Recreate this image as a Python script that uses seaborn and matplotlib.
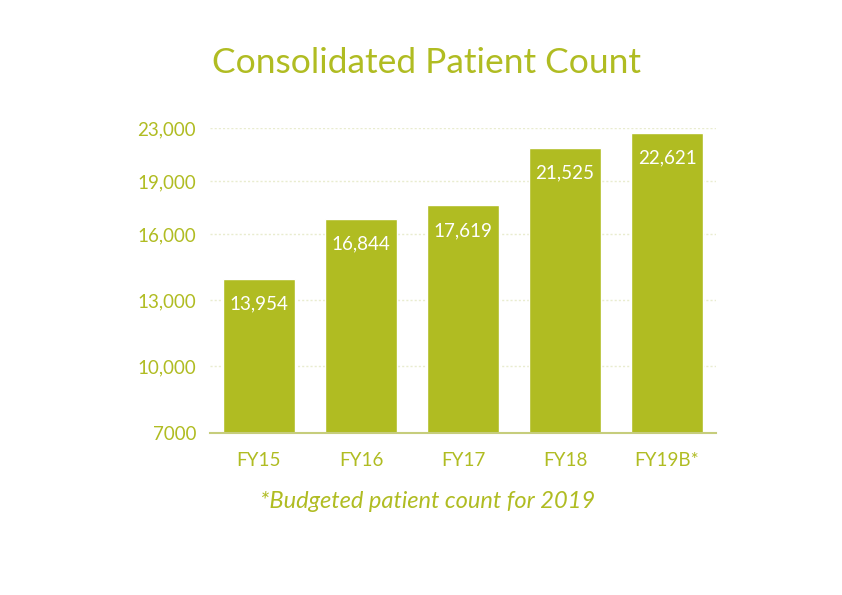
import numpy as np
import pandas as pd
import matplotlib
matplotlib.use('Agg')
import matplotlib.pyplot as plt
import seaborn as sns

# data
years = ['FY15', 'FY16', 'FY17', 'FY18', 'FY19B*']
patients = [13954, 16844, 17619, 21525, 22621]
tick_values = [7000, 10000, 13000, 16000, 19000, 23000]
tick_labels = ['7000', '10,000', '13,000', '16,000', '19,000', '23,000']
# the source axis is not evenly spaced: relative height of each tick
tick_heights = [0, 67, 133, 199, 252, 305]

green = '#b0bc22'
grid_col = '#e9eccf'

sns.set_theme(style='white')
plt.rcParams['font.family'] = ['Lato', 'DejaVu Sans']

df = pd.DataFrame({'year': years, 'patients': patients})

fig = plt.figure(figsize=(8.42, 5.95), dpi=100)
ax = fig.add_axes([210 / 842, 1 - 433 / 595, 506 / 842, 305 / 595])


def fwd(v):
    return np.interp(v, tick_values, tick_heights)


def inv(h):
    return np.interp(h, tick_heights, tick_values)


ax.set_yscale('function', functions=(fwd, inv))
sns.barplot(data=df, x='year', y='patients', color=green, width=0.706,
            saturation=1, ax=ax, zorder=3)
ax.set_ylim(7000, 23000)
ax.set_xlim(-0.48, 4.48)
ax.set_yticks(tick_values)
ax.set_yticklabels(tick_labels)
ax.set_xlabel('')
ax.set_ylabel('')

for v in tick_values[1:]:
    ax.axhline(v, color=grid_col, lw=1, ls=(0, (1.5, 1.5)), zorder=1)

for s in ['top', 'right', 'left']:
    ax.spines[s].set_visible(False)
ax.spines['bottom'].set_color('#c6cd7c')
ax.spines['bottom'].set_linewidth(1.5)
ax.spines['bottom'].set_zorder(4)

ax.tick_params(axis='both', length=0, colors=green, labelsize=13.5)
ax.tick_params(axis='y', pad=10)
ax.tick_params(axis='x', pad=14)

for i, p in enumerate(patients):
    ax.annotate(f'{p:,}', (i, p), xytext=(0, -18), textcoords='offset points',
                ha='center', va='center', color='white', fontsize=13.5, zorder=5)

fig.text(427 / 842, 1 - 63 / 595, 'Consolidated Patient Count', ha='center',
         va='center', color=green, fontsize=25.5)
fig.text(428 / 842, 1 - 502 / 595, '*Budgeted patient count for 2019', ha='center',
         va='center', color=green, fontsize=17, style='italic')

fig.savefig('out.png', dpi=100)
